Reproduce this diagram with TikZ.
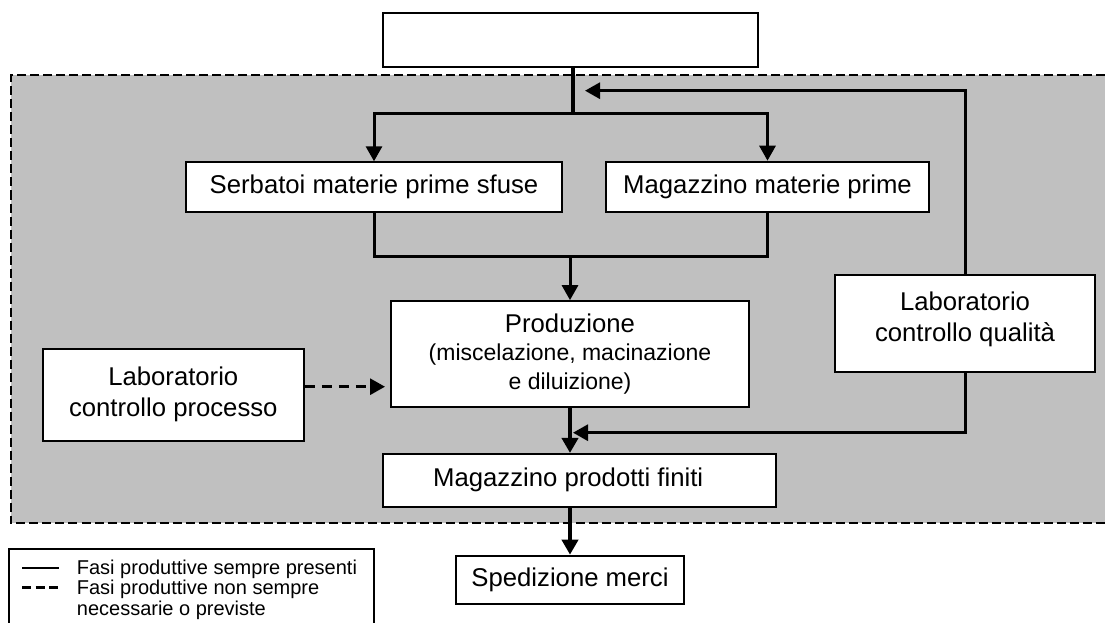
\documentclass[tikz,border=0pt]{standalone}
\usepackage{fontspec}
\setmainfont{Liberation Sans}
\usetikzlibrary{arrows.meta}
\definecolor{zonegray}{RGB}{192,192,192}
\begin{document}
\begin{tikzpicture}[x=1pt,y=-1pt,
  box/.style={draw, line width=2pt, fill=white, inner sep=0pt, align=center,
    font=\fontsize{25.7}{31}\selectfont},
  conn/.style={line width=3pt},
  flow/.style={conn, -{Triangle[length=15pt,width=16pt]}},
  trunk/.style={line width=4.3pt},
  trunkflow/.style={flow, line width=4.3pt},
  optflow/.style={flow, dash pattern=on 10pt off 7pt},
  zoneline/.style={line width=2pt, dash pattern=on 9pt off 4pt},
  legtext/.style={inner sep=0pt, align=left, font=\fontsize{20}{21}\selectfont},
]
\useasboundingbox (0,0) rectangle (1105,623);

% shaded plant area with dashed border (open on the right)
\fill[zonegray] (11,75.5) rectangle (1105,523);
\draw[zoneline] (1105,75.5) -- (11,75.5) -- (11,523) -- (1105,523);

% process boxes
\node[box, minimum width=375pt, minimum height=53.4pt] (top) at (570.5,40) {};
\node[box, minimum width=376pt, minimum height=50pt] (serb) at (374,187.3) {Serbatoi materie prime sfuse};
\node[box, minimum width=323pt, minimum height=50pt] (magmp) at (767.5,186.7) {Magazzino materie prime};
\node[box, minimum width=358pt, minimum height=105.7pt, font=\fontsize{23}{28.3}\selectfont] (prod) at (570,354)
  {{\fontsize{25.7}{28.3}\selectfont Produzione}\\(miscelazione, macinazione\\e diluizione)};
\node[box, minimum width=261.3pt, minimum height=91.7pt] (labp) at (173.3,394.8) {Laboratorio\\controllo processo};
\node[box, minimum width=260pt, minimum height=96.7pt, text depth=13pt] (labq) at (965,323.3) {Laboratorio\\controllo qualità};
\node[box, minimum width=393pt, minimum height=52.7pt] (magpf) at (579.2,480.3) {Magazzino prodotti finiti\hspace*{22pt}};
\node[box, minimum width=228.6pt, minimum height=48.6pt] (sped) at (570,580) {Spedizione merci};

% junction points
\coordinate (split) at (573,114);
\coordinate (merge) at (570,256.7);
\coordinate (fbtop) at (585,90.7);
\coordinate (fbbot) at (573,432.7);
\coordinate (dtip) at (385,386.7);

% distribution to raw material storage
\draw[trunk] (top.south -| split) -- (split);
\draw[flow] (split) -| (serb.north);
\draw[flow] (split) -| (magmp.north);

% raw materials to production
\draw[conn] (serb.south) |- (merge);
\draw[conn] (magmp.south) |- (merge);
\draw[flow] (merge) -- (prod.north);

% quality lab feedback lines
\draw[flow] (labq.north) |- (fbtop);
\draw[flow] (labq.south) |- (fbbot);

% process lab (optional)
\draw[optflow] (labp.east |- dtip) -- (dtip);

% production to finished goods and shipping
\draw[trunkflow] (prod.south) -- (prod.south |- magpf.north);
\draw[trunkflow] (magpf.south -| sped.north) -- (sped.north);

% legend
\draw[line width=2pt] (9.3,623) -- (9.3,549.3) -- (374.3,549.3) -- (374.3,623);
\draw[line width=2pt] (22,568.3) -- (59.3,568.3);
\draw[line width=2.5pt, dash pattern=on 9pt off 4.5pt] (22,587.7) -- (59.3,587.7);
\node[legtext, anchor=base west] (leg1) at (76.7,574) {Fasi produttive sempre presenti};
\node[legtext, anchor=north west] (leg2) at (76.7,579.6) {Fasi produttive non sempre\\necessarie o previste};
\end{tikzpicture}
\end{document}
